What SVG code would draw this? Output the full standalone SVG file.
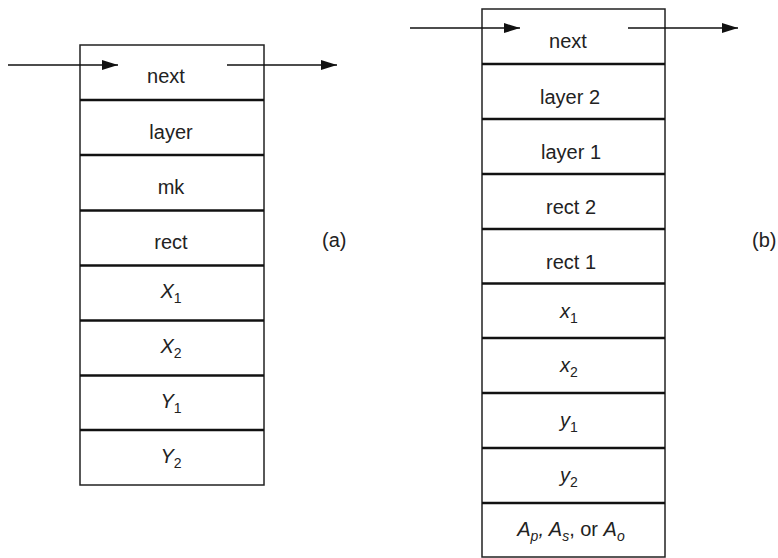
<svg xmlns="http://www.w3.org/2000/svg" width="778" height="558" viewBox="0 0 778 558">
<defs>
<style>
.box{fill:#fff;stroke:#222;stroke-width:1.5}
.div{stroke:#111;stroke-width:2.5}
.t{font-family:"Liberation Sans",Arial,sans-serif;font-size:20px;fill:#222;text-anchor:middle}
.i{font-style:italic}
.s{font-size:14px;font-style:normal}
.si{font-size:14px;font-style:italic}
.lbl{font-family:"Liberation Sans",Arial,sans-serif;font-size:20px;fill:#222}
.arr{stroke:#111;stroke-width:1.5;fill:none;marker-end:url(#ah)}
</style>
<marker id="ah" viewBox="0 0 16 10" refX="16" refY="5" markerWidth="16" markerHeight="10" markerUnits="userSpaceOnUse" orient="auto">
<path d="M0,0 L16,5 L0,10 z" fill="#111"/>
</marker>
</defs>
<rect width="778" height="558" fill="#fff"/>

<g id="structA">
<rect class="box" x="80" y="45" width="184" height="440"/>
<line class="div" x1="80" y1="100" x2="264" y2="100"/>
<line class="div" x1="80" y1="155" x2="264" y2="155"/>
<line class="div" x1="80" y1="210.5" x2="264" y2="210.5"/>
<line class="div" x1="80" y1="265.5" x2="264" y2="265.5"/>
<line class="div" x1="80" y1="320.5" x2="264" y2="320.5"/>
<line class="div" x1="80" y1="375.5" x2="264" y2="375.5"/>
<line class="div" x1="80" y1="430" x2="264" y2="430"/>
<text class="t" x="166" y="83">next</text>
<text class="t" x="171" y="139">layer</text>
<text class="t" x="171" y="194">mk</text>
<text class="t" x="171" y="249">rect</text>
<text class="t i" x="171" y="298">X<tspan class="s" dy="5">1</tspan></text>
<text class="t i" x="171" y="353">X<tspan class="s" dy="5">2</tspan></text>
<text class="t i" x="171" y="408">Y<tspan class="s" dy="5">1</tspan></text>
<text class="t i" x="171" y="463">Y<tspan class="s" dy="5">2</tspan></text>
</g>

<g id="structB">
<rect class="box" x="482" y="9" width="183" height="548"/>
<line class="div" x1="482" y1="64" x2="665" y2="64"/>
<line class="div" x1="482" y1="119" x2="665" y2="119"/>
<line class="div" x1="482" y1="174" x2="665" y2="174"/>
<line class="div" x1="482" y1="229" x2="665" y2="229"/>
<line class="div" x1="482" y1="283.5" x2="665" y2="283.5"/>
<line class="div" x1="482" y1="338" x2="665" y2="338"/>
<line class="div" x1="482" y1="393" x2="665" y2="393"/>
<line class="div" x1="482" y1="448" x2="665" y2="448"/>
<line class="div" x1="482" y1="503" x2="665" y2="503"/>
<text class="t" x="568" y="48">next</text>
<text class="t" x="570" y="104">layer 2</text>
<text class="t" x="571" y="159">layer 1</text>
<text class="t" x="571" y="214">rect 2</text>
<text class="t" x="571" y="269">rect 1</text>
<text class="t i" x="569" y="318">x<tspan class="s" dy="5">1</tspan></text>
<text class="t i" x="569" y="372">x<tspan class="s" dy="5">2</tspan></text>
<text class="t i" x="569" y="427">y<tspan class="s" dy="5">1</tspan></text>
<text class="t i" x="569" y="482">y<tspan class="s" dy="5">2</tspan></text>
<text class="t i" x="571" y="536">A<tspan class="si" dy="5">p</tspan><tspan dy="-5">, A</tspan><tspan class="si" dy="5">s</tspan><tspan dy="-5" font-style="normal">, or </tspan><tspan dy="0">A</tspan><tspan class="si" dy="5">o</tspan></text>
</g>

<g id="labels">
<text class="lbl" x="322" y="247">(a)</text>
<text class="lbl" x="752" y="247">(b)</text>
</g>

<g id="connectors">
<line class="arr" x1="8" y1="65" x2="118" y2="65"/>
<line class="arr" x1="227" y1="65" x2="337" y2="65"/>
<line class="arr" x1="410" y1="28" x2="520" y2="28"/>
<line class="arr" x1="628" y1="28" x2="738" y2="28"/>
</g>
</svg>
